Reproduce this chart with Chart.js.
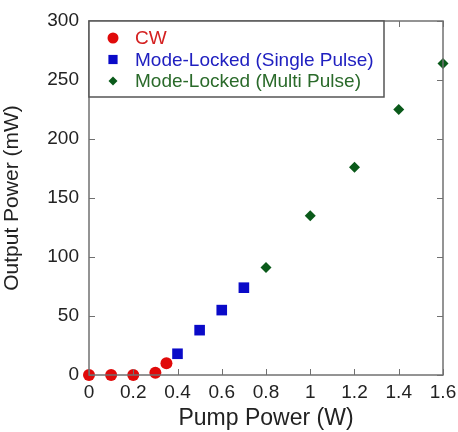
<!DOCTYPE html>
<html>
<head>
<meta charset="utf-8">
<script src="https://cdn.jsdelivr.net/npm/chart.js@4.4.1/dist/chart.umd.min.js"></script>
<style>
    html, body { margin: 0; padding: 0; background: #fff; }
    #wrap { width: 458px; height: 432px; }
</style>
</head>
<body>
<div id="wrap"><canvas id="chart" width="458" height="432"></canvas></div>
<script>
// data
const cwPump = [0, 0.1, 0.2, 0.3, 0.35];
const cwOut = [0, 0, 0, 2, 10];
const singlePump = [0.4, 0.5, 0.6, 0.7];
const singleOut = [18, 38, 55, 74];
const multiPump = [0.8, 1.0, 1.2, 1.4, 1.6];
const multiOut = [91, 135, 176, 225, 264];
const xTicks = [0, 0.2, 0.4, 0.6, 0.8, 1, 1.2, 1.4, 1.6];
const yTicks = [0, 50, 100, 150, 200, 250, 300];

const seriesNames = ['CW', 'Mode-Locked (Single Pulse)', 'Mode-Locked (Multi Pulse)'];
const axisColor = '#707070';
const fontFamily = 'Arial, "Liberation Sans", sans-serif';

function pairs(xs, ys) {
    return xs.map((x, i) => ({ x: x, y: ys[i] }));
}

// ticks pointing inward on all four sides + frame
const frameTicks = {
    id: 'frameTicks',
    afterDatasetsDraw(chart) {
        const { ctx, chartArea: a, scales } = chart;
        const len = 6;
        ctx.save();
        ctx.strokeStyle = axisColor;
        ctx.lineWidth = 1.5;
        ctx.strokeRect(a.left, a.top, a.right - a.left, a.bottom - a.top);
        ctx.lineWidth = 1;
        ctx.beginPath();
        xTicks.forEach(v => {
            const px = Math.round(scales.x.getPixelForValue(v)) + 0.5;
            ctx.moveTo(px, a.bottom); ctx.lineTo(px, a.bottom - len);
            ctx.moveTo(px, a.top); ctx.lineTo(px, a.top + len);
        });
        yTicks.forEach(v => {
            const py = Math.round(scales.y.getPixelForValue(v)) + 0.5;
            ctx.moveTo(a.left, py); ctx.lineTo(a.left + len, py);
            ctx.moveTo(a.right, py); ctx.lineTo(a.right - len, py);
        });
        ctx.stroke();
        ctx.restore();
    }
};

// legend box drawn inside the plot, top-left corner
const insideLegend = {
    id: 'insideLegend',
    afterDraw(chart) {
        const { ctx, chartArea: a } = chart;
        const boxW = 295, boxH = 76;
        const textColors = ['#d42020', '#2020c0', '#2a6a2a'];
        const markSize = [5.5, 6.5, 4.5];
        ctx.save();
        ctx.fillStyle = '#fff';
        ctx.fillRect(a.left, a.top, boxW, boxH);
        ctx.strokeStyle = '#555';
        ctx.lineWidth = 1.5;
        ctx.strokeRect(a.left, a.top, boxW, boxH);
        ctx.font = '19px ' + fontFamily;
        ctx.textBaseline = 'middle';
        chart.data.datasets.forEach((ds, i) => {
            const y = a.top + 17 + i * 21.5;
            const x = a.left + 24;
            ctx.fillStyle = ds.backgroundColor;
            ctx.strokeStyle = ds.backgroundColor;
            Chart.helpers.drawPoint(ctx, {
                pointStyle: ds.pointStyle,
                radius: markSize[i],
                rotation: 0,
                borderWidth: 0
            }, x, y);
            ctx.fillStyle = textColors[i];
            ctx.fillText(ds.label, a.left + 46, y + 1);
        });
        ctx.restore();
    }
};

new Chart(document.getElementById('chart'), {
    type: 'scatter',
    data: {
        datasets: [
            {
                label: seriesNames[0],
                data: pairs(cwPump, cwOut),
                pointStyle: 'circle',
                pointRadius: 6,
                backgroundColor: '#e00a0a',
                borderColor: '#e00a0a',
                borderWidth: 0
            },
            {
                label: seriesNames[1],
                data: pairs(singlePump, singleOut),
                pointStyle: 'rect',
                pointRadius: 7.5,
                backgroundColor: '#0a0ac8',
                borderColor: '#0a0ac8',
                borderWidth: 0
            },
            {
                label: seriesNames[2],
                data: pairs(multiPump, multiOut),
                pointStyle: 'rectRot',
                pointRadius: 5.5,
                backgroundColor: '#0a5a1a',
                borderColor: '#0a5a1a',
                borderWidth: 0
            }
        ]
    },
    options: {
        responsive: false,
        animation: false,
        clip: false,
        layout: { padding: { top: 21, right: 15, left: 0, bottom: 0 } },
        plugins: {
            legend: { display: false },
            tooltip: { enabled: false }
        },
        scales: {
            x: {
                type: 'linear',
                min: 0,
                max: 1.6,
                afterBuildTicks(axis) { axis.ticks = xTicks.map(v => ({ value: v })); },
                afterFit(axis) {
                    axis.height = 57;
                    axis.paddingLeft = 0;
                    axis.paddingRight = 0;
                },
                grid: { display: false, drawTicks: false },
                border: { display: false },
                ticks: {
                    color: '#222',
                    padding: 6,
                    font: { size: 19, family: fontFamily },
                    callback: v => String(v)
                },
                title: {
                    display: true,
                    text: 'Pump Power (W)',
                    color: '#222',
                    padding: { top: 0, bottom: 0 },
                    font: { size: 23, family: fontFamily }
                }
            },
            y: {
                type: 'linear',
                min: 0,
                max: 300,
                afterBuildTicks(axis) { axis.ticks = yTicks.map(v => ({ value: v })); },
                afterFit(axis) {
                    axis.width = 89;
                    axis.paddingTop = 0;
                    axis.paddingBottom = 0;
                },
                grid: { display: false, drawTicks: false },
                border: { display: false },
                ticks: {
                    color: '#222',
                    padding: 10,
                    font: { size: 19, family: fontFamily }
                },
                title: {
                    display: true,
                    text: 'Output Power (mW)',
                    color: '#222',
                    padding: { top: 0, bottom: 4 },
                    font: { size: 21, family: fontFamily }
                }
            }
        }
    },
    plugins: [frameTicks, insideLegend]
});
</script>
</body>
</html>
